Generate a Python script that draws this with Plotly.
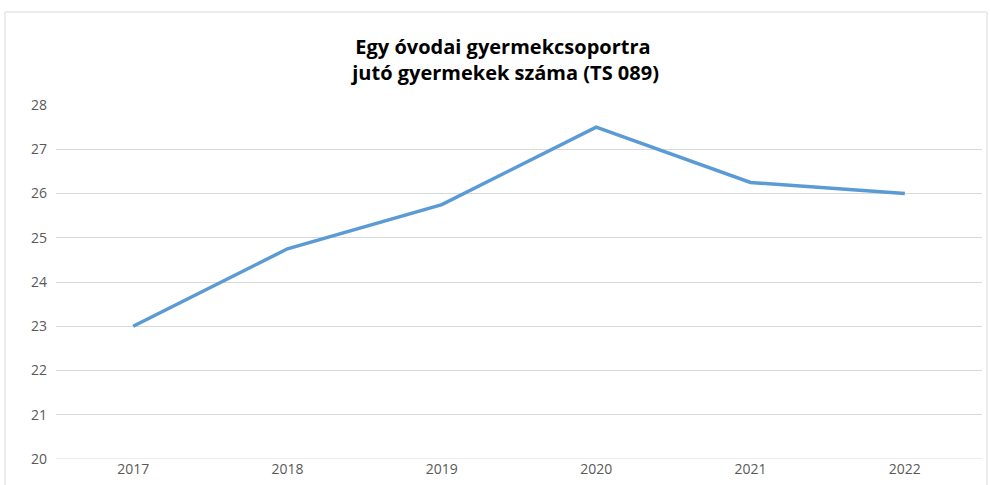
import plotly.graph_objects as go

years = ["2017", "2018", "2019", "2020", "2021", "2022"]
values = [23, 24.75, 25.75, 27.5, 26.25, 26]
y_ticks = [20, 21, 22, 23, 24, 25, 26, 27, 28]
title_text = "<b>Egy óvodai gyermekcsoportra<br> jutó gyermekek száma (TS 089)</b>"

fig = go.Figure()
fig.add_trace(go.Scatter(
    x=years, y=values, mode="lines",
    line=dict(color="#5B9BD5", width=3.5),
    showlegend=False,
))

fig.update_layout(
    width=990, height=485,
    margin=dict(l=56, r=8, t=105, b=26),
    paper_bgcolor="white", plot_bgcolor="white",
    title=dict(text=title_text, x=503/990, xanchor="center", y=1-54/485, yanchor="middle",
               font=dict(family="Open Sans, sans-serif", size=20, color="#000000")),
    font=dict(family="Open Sans, sans-serif", size=14, color="#595959"),
    xaxis=dict(type="category", range=[-0.5, 5.5], showgrid=False, showline=False,
               ticks="", tickfont=dict(size=14, color="#595959")),
    yaxis=dict(range=[20, 28], tickvals=y_ticks, showgrid=True, gridcolor="#D9D9D9",
               gridwidth=1, zeroline=False, showline=False, ticks="", ticklabelstandoff=8,
               tickfont=dict(size=14, color="#595959")),
    shapes=[
        dict(type="line", xref="paper", yref="y", x0=0, x1=1, y0=y_ticks[0], y1=y_ticks[0],
             line=dict(color="#D9D9D9", width=1), layer="below"),
        dict(type="line", xref="paper", yref="paper", x0=(5-56)/926, x1=(5-56)/926,
             y0=1+(105-12)/354, y1=-0.2, line=dict(color="#D9D9D9", width=1)),
        dict(type="line", xref="paper", yref="paper", x0=(5-56)/926, x1=(987-56)/926,
             y0=1+(105-12)/354, y1=1+(105-12)/354, line=dict(color="#D9D9D9", width=1)),
        dict(type="line", xref="paper", yref="paper", x0=(987-56)/926, x1=(987-56)/926,
             y0=1+(105-12)/354, y1=-0.2, line=dict(color="#D9D9D9", width=1)),
    ],
)

fig.write_html("out.html", config={"displayModeBar": False},
               post_script="document.body.style.margin='0';document.body.style.overflow='hidden';")
